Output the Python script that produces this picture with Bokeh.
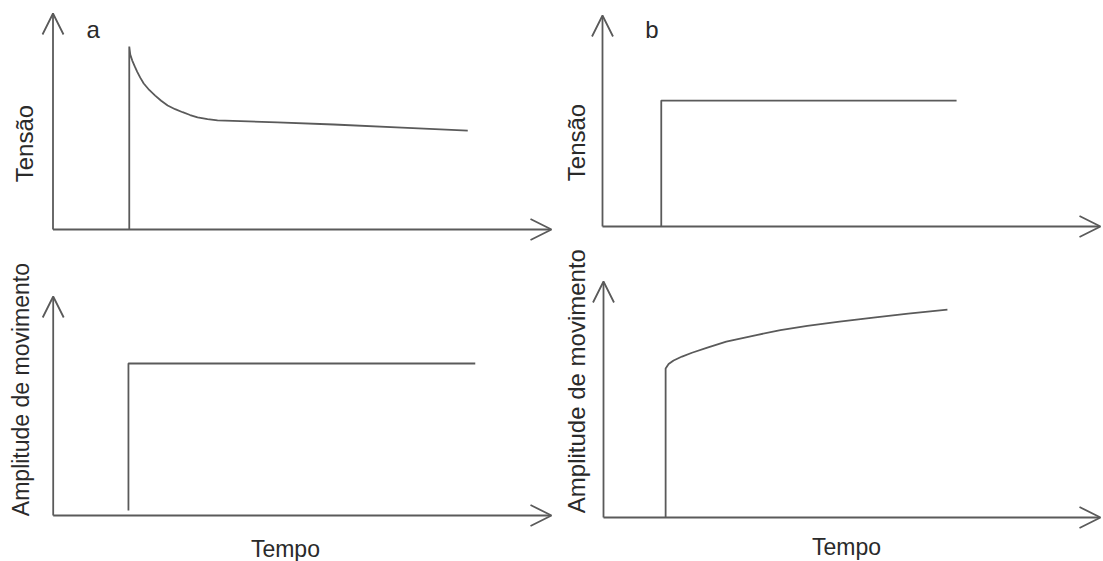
from math import pi
from bokeh.plotting import figure
from bokeh.layouts import column, row
from bokeh.models import Range1d, Arrow, OpenHead, Label
from bokeh.embed import file_html
from bokeh.resources import INLINE

# ---- data (arbitrary units: time 0..100, response 0..100) ----
# panel a, top: stress relaxation (Tensão)
relax_time = [15.3, 15.3, 15.5, 15.9, 16.4, 16.9, 17.5, 18.2, 19.3, 20.5, 21.7, 23.0,
              24.5, 26.0, 27.5, 29.0, 31.0, 33.0, 45.0, 56.3, 70.0, 83.2]
relax_tension = [0.0, 84.7, 81.0, 78.2, 75.5, 73.0, 70.3, 67.6, 64.6, 62.0, 59.6, 57.4,
                 55.7, 54.3, 53.0, 51.9, 51.1, 50.5, 49.6, 48.6, 47.2, 45.8]
# panel a, bottom: constant displacement (Amplitude de movimento)
stepA_time = [15.1, 15.1, 84.7]
stepA_amp = [2.3, 69.4, 69.4]
# panel b, top: constant load (Tensão)
stepB_time = [11.8, 11.8, 71.1]
stepB_tension = [0.0, 59.7, 59.7]
# panel b, bottom: creep (Amplitude de movimento)
creep_time = [12.5, 12.5, 13.1, 14.1, 15.8, 17.8, 20.9, 24.7, 31.0, 35.6, 41.0, 47.5,
              54.3, 61.3, 69.2]
creep_amp = [0.0, 63.1, 65.0, 66.5, 68.2, 69.8, 72.0, 74.5, 77.4, 79.4, 81.2, 83.0,
             84.7, 86.4, 88.1]

panel_letters = ["a", "b"]
y_labels = ["Tensão", "Amplitude de movimento"]
x_label = "Tempo"

LINE = "#5a5a5a"
TEXT = "#2a2a2a"
FONT = "Liberation Sans"


def panel(W, H, left, top, origin, tip):
    ox, oy = origin
    tx, ty = tip
    sx = (tx - ox) / 100.0
    sy = (oy - ty) / 100.0
    xs = -(ox - left) / sx
    xe = xs + W / sx
    ye = (oy - top) / sy
    ys = ye - H / sy
    p = figure(width=W, height=H, x_range=Range1d(xs, xe), y_range=Range1d(ys, ye),
               output_backend="svg", toolbar_location=None, min_border=0,
               x_axis_location=None, y_axis_location=None,
               outline_line_color=None, background_fill_color="white",
               border_fill_color="white")
    p.grid.visible = False
    for (xe_, ye_) in [(100, 0), (0, 100)]:
        p.add_layout(Arrow(end=OpenHead(size=21, line_color=LINE, line_width=1.8),
                           x_start=0, y_start=0, x_end=xe_, y_end=ye_,
                           line_color=LINE, line_width=1.8))
    return p


def add_label(p, x, y, text, size, angle=0.0, align="left"):
    p.add_layout(Label(x=x, y=y, text=text, angle=angle, text_align=align,
                       text_baseline="alphabetic", text_font=FONT,
                       text_font_size=size, text_color=TEXT))


# geometry in picture pixels
pa_top = panel(560, 245, 0, 0, (52.5, 229), (551, 13))
pb_top = panel(543, 245, 560, 0, (602, 226), (1100, 15))
pa_bot = panel(560, 316, 0, 245, (52.7, 515), (551, 296))
pb_bot = panel(543, 316, 560, 245, (603, 517), (1100, 281))

pa_top.line(relax_time, relax_tension, line_color=LINE, line_width=1.8)
pa_bot.line(stepA_time, stepA_amp, line_color=LINE, line_width=1.8)
pb_top.line(stepB_time, stepB_tension, line_color=LINE, line_width=1.8)
pb_bot.line(creep_time, creep_amp, line_color=LINE, line_width=1.8)

add_label(pa_top, 6.7, 92.6, panel_letters[0], "24px")
add_label(pb_top, 8.6, 93.4, panel_letters[1], "24px")
add_label(pa_top, -5.7, 39.8, y_labels[0], "24px", angle=pi / 2, align="center")
add_label(pb_top, -5.3, 39.8, y_labels[0], "24px", angle=pi / 2, align="center")
add_label(pa_bot, -6.56, 57.5, y_labels[1], "23px", angle=pi / 2, align="center")
add_label(pb_bot, -5.4, 57.8, y_labels[1], "24px", angle=pi / 2, align="center")
add_label(pa_bot, 46.6, -15.5, x_label, "23px", align="center")
add_label(pb_bot, 48.9, -12.6, x_label, "23px", align="center")

layout = column(row(pa_top, pb_top), row(pa_bot, pb_bot))
open("out.html", "w").write(file_html(layout, INLINE))
